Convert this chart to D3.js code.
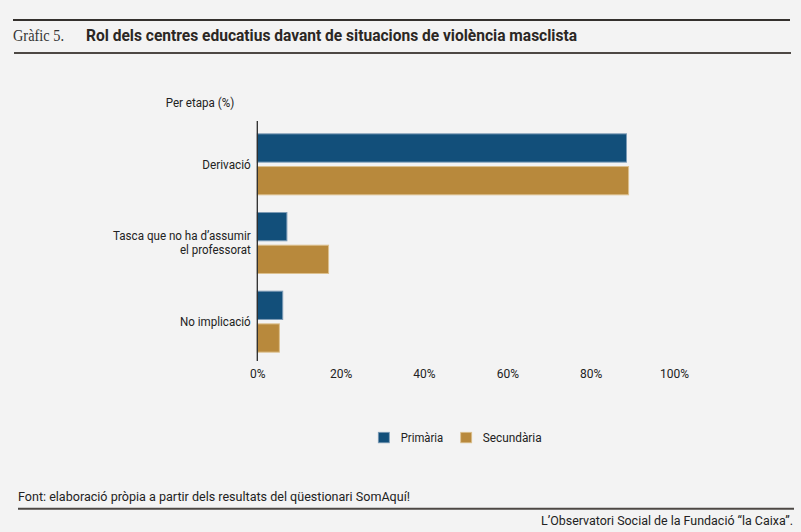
<!DOCTYPE html>
<html>
<head>
<meta charset="utf-8">
<script src="https://cdn.jsdelivr.net/npm/d3@7"></script>
<style>
  html, body { margin: 0; padding: 0; background: #f3f3f3; }
  svg { display: block; }
  text { font-family: Roboto, "Liberation Sans", sans-serif; fill: #222; }
</style>
</head>
<body>
<svg id="chart" width="801" height="532"></svg>
<script>
const categories = ["Derivació", "Tasca que no ha d’assumir|el professorat", "No implicació"];
const series = ["Primària", "Secundària"];
const primaria = [88.6, 7.1, 6.1];
const secundaria = [89.1, 17.1, 5.3];
const ticks = [0, 20, 40, 60, 80, 100];
const colors = ["#124f7a", "#b8893c"];
const strokes = ["#7c9bb6", "#dcc08e"];
const labelWidths = { "Derivació": 48.4, "Tasca que no ha d’assumir": 137.7, "el professorat": 70.7, "No implicació": 70.7 };

const svg = d3.select("#chart");
svg.append("rect").attr("width", 801).attr("height", 532).attr("fill", "#f3f3f3");

// header rules
svg.append("line").attr("x1", 13).attr("x2", 790).attr("y1", 20).attr("y2", 20)
  .attr("stroke", "#34302d").attr("stroke-width", 2);
svg.append("line").attr("x1", 14).attr("x2", 791).attr("y1", 53).attr("y2", 53)
  .attr("stroke", "#4d4844").attr("stroke-width", 2);

svg.append("text").attr("x", 13).attr("y", 41)
  .style("font-family", "'Liberation Serif', 'DejaVu Serif', serif")
  .style("font-size", "16px").style("fill", "#333")
  .attr("textLength", 51).attr("lengthAdjust", "spacingAndGlyphs")
  .text("Gràfic 5.");
svg.append("text").attr("x", 86).attr("y", 41)
  .style("font-size", "16px").style("font-weight", 700).style("fill", "#2b2724")
  .attr("textLength", 491).attr("lengthAdjust", "spacingAndGlyphs")
  .text("Rol dels centres educatius davant de situacions de violència masclista");

svg.append("text").attr("x", 165.7).attr("y", 106.7)
  .style("font-size", "12px").attr("textLength", 68.6).attr("lengthAdjust", "spacingAndGlyphs")
  .text("Per etapa (%)");

// scales
const x = d3.scaleLinear().domain([0, 100]).range([257.3, 674]);
const y = d3.scaleBand().domain(categories).range([125, 361])
  .paddingInner(0.225).paddingOuter(0.1125);
const ySub = d3.scaleBand().domain(series).range([0, y.bandwidth()]).paddingInner(0.135);

const values = [primaria, secundaria];
const rows = [];
categories.forEach((c, i) => series.forEach((s, j) => rows.push({ c, s, j, v: values[j][i] })));

svg.append("g").selectAll("rect").data(rows).join("rect")
  .attr("x", x(0))
  .attr("y", d => y(d.c) + ySub(d.s))
  .attr("width", d => x(d.v) - x(0))
  .attr("height", ySub.bandwidth())
  .attr("fill", d => colors[d.j])
  .attr("stroke", d => strokes[d.j])
  .attr("stroke-width", 1);

// y axis line
svg.append("line").attr("x1", x(0)).attr("x2", x(0)).attr("y1", 121).attr("y2", 361)
  .attr("stroke", "#2a2a2a").attr("stroke-width", 1.3);

// category labels
svg.append("g").selectAll("text").data(categories).join("text")
  .attr("text-anchor", "end")
  .style("font-size", "12px")
  .each(function (d) {
    const lines = d.split("|");
    const cy = y(d) + y.bandwidth() / 2;
    const t = d3.select(this);
    lines.forEach((l, k) => {
      t.append("tspan").attr("x", 250.7)
        .attr("y", cy + 4.3 + (k - (lines.length - 1) / 2) * 14)
        .attr("textLength", labelWidths[l]).attr("lengthAdjust", "spacingAndGlyphs")
        .text(l);
    });
  });

// x axis tick labels
const xAxis = d3.axisBottom(x).tickValues(ticks).tickFormat(d => d + "%").tickSize(0).tickPadding(0);
const gx = svg.append("g").attr("transform", "translate(0,369)").call(xAxis);
gx.select(".domain").remove();
gx.selectAll("text").style("font-size", "12px").style("font-family", "Roboto, sans-serif")
  .attr("fill", "#222").attr("dy", "0.71em");

// legend
const legX = [378.3, 460.7];
const legTextX = [400.7, 482.7];
const legW = [42.5, 59];
series.forEach((s, j) => {
  svg.append("rect").attr("x", legX[j]).attr("y", 432.3).attr("width", 11).attr("height", 10.5)
    .attr("fill", colors[j]).attr("stroke", strokes[j]).attr("stroke-width", 0.8);
  svg.append("text").attr("x", legTextX[j]).attr("y", 441.7)
    .style("font-size", "12px")
    .attr("textLength", legW[j]).attr("lengthAdjust", "spacingAndGlyphs")
    .text(s);
});

// footer
svg.append("text").attr("x", 18).attr("y", 500.7).style("font-size", "12px")
  .attr("textLength", 392).attr("lengthAdjust", "spacingAndGlyphs")
  .text("Font: elaboració pròpia a partir dels resultats del qüestionari SomAquí!");
svg.append("line").attr("x1", 18).attr("x2", 794).attr("y1", 508.8).attr("y2", 508.8)
  .attr("stroke", "#4d4844").attr("stroke-width", 2);
svg.append("text").attr("x", 793).attr("y", 525).attr("text-anchor", "end").style("font-size", "12px")
  .attr("textLength", 252).attr("lengthAdjust", "spacingAndGlyphs")
  .text("L’Observatori Social de la Fundació “la Caixa”.");
</script>
</body>
</html>
